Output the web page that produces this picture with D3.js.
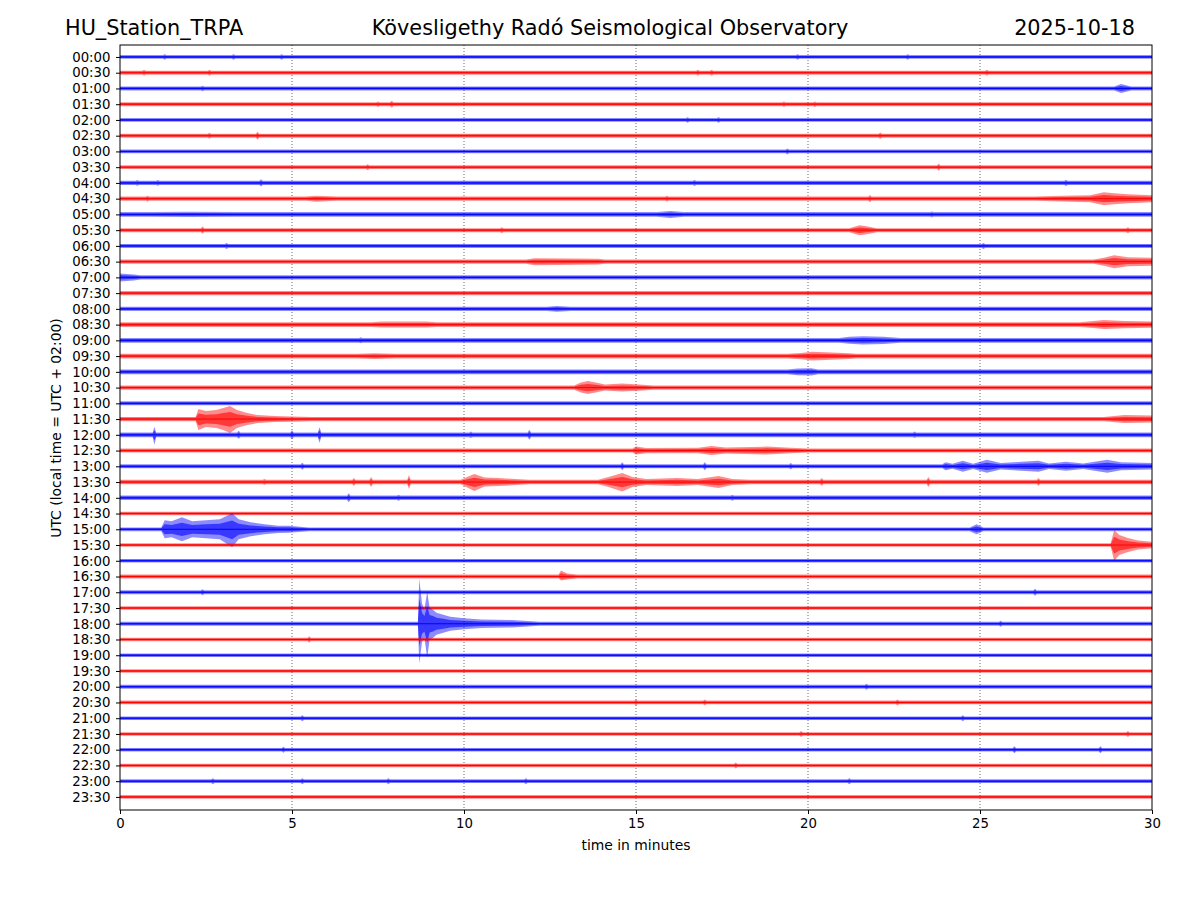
<!DOCTYPE html>
<html>
<head>
<meta charset="utf-8">
<script src="https://cdn.jsdelivr.net/npm/d3@7"></script>
<style>
  html, body { margin: 0; padding: 0; background: #fff; }
  svg { display: block; font-family: "DejaVu Sans", sans-serif; }
</style>
</head>
<body>
<svg id="chart" width="1200" height="900"></svg>
<script>
// ---------------- DATA ----------------
const stationLabel = "HU_Station_TRPA";
const titleLabel = "Kövesligethy Radó Seismological Observatory";
const dateLabel = "2025-10-18";
const yAxisLabel = "UTC (local time = UTC + 02:00)";
const xAxisLabel = "time in minutes";

const rowLabels = ["00:00","00:30","01:00","01:30","02:00","02:30","03:00","03:30",
  "04:00","04:30","05:00","05:30","06:00","06:30","07:00","07:30",
  "08:00","08:30","09:00","09:30","10:00","10:30","11:00","11:30",
  "12:00","12:30","13:00","13:30","14:00","14:30","15:00","15:30",
  "16:00","16:30","17:00","17:30","18:00","18:30","19:00","19:30",
  "20:00","20:30","21:00","21:30","22:00","22:30","23:00","23:30"];

const xTicks = [0, 5, 10, 15, 20, 25, 30];

// background noise half-amplitude per row (trace units)
const baseNoise = [1.9,2.0,2.0,2.0,1.9,2.0,1.9,1.9,
  2.2,2.1,2.3,2.0,2.0,2.1,2.2,2.2,
  2.2,2.4,2.4,2.3,2.4,2.2,2.0,2.2,
  2.4,2.0,2.0,2.2,2.2,1.7,1.9,1.8,
  1.8,1.9,1.9,1.8,1.9,1.8,1.8,1.8,
  1.9,1.9,1.8,1.8,1.8,1.8,1.9,1.9];

// envelope of signal bursts: [row, [[minute, up, down?], ...]]
const bursts = [
  [2,  [[28.9,0],[29.1,4.5],[29.4,0]]],
  [9,  [[5.4,0],[5.7,3],[6.3,0]]],
  [9,  [[26.6,0],[27.4,2.8],[28.2,3.5],[28.6,6.5],[28.9,5.5],[29.3,4.5],[30,3.5]]],
  [10, [[0.9,0],[2,2.6],[3.4,0]]],
  [10, [[15.6,0],[16,3.5],[16.4,0]]],
  [11, [[21.2,0],[21.5,5],[21.7,4],[22.0,0]]],
  [13, [[11.8,0],[12.05,3.5],[13.9,2.8],[14.1,0]]],
  [13, [[28.3,0],[28.6,4],[28.9,6.5],[29.3,4.5],[30,4]]],
  [14, [[0,4],[0.4,3],[0.6,0]]],
  [16, [[12.4,0],[12.7,2.8],[13.1,0]]],
  [17, [[7.3,0],[7.6,3],[8.9,3],[9.2,0]]],
  [17, [[27.9,0],[28.3,3.5],[28.6,4.5],[29.2,3.6],[30,3.2]]],
  [18, [[20.9,0],[21.2,3.5],[21.6,4.2],[22.2,3.6],[22.7,0]]],
  [19, [[6.9,0],[7.4,2.8],[8.0,0]]],
  [19, [[19.4,0],[19.8,3.2],[20.1,4.3],[20.7,3.6],[21.2,2.8],[21.4,0]]],
  [20, [[19.4,0],[19.7,3.4],[20.1,3.6],[20.3,0]]],
  [21, [[13.2,0],[13.4,5],[13.6,6.5],[13.9,4.5],[14.1,3],[14.6,4],[15.2,2.8],[15.5,0]]],
  [23, [[2.2,0],[2.28,10,11],[2.5,8],[2.8,9],[3.0,11],[3.2,13,14],[3.4,9],[3.7,6],[4.0,4],[4.5,3],[5.0,2.6],[5.6,0]]],
  [23, [[28.6,0],[29.2,4],[30,3.5]]],
  [25, [[14.9,0],[15.0,4],[15.3,2.6],[16.8,2.8],[17.2,4.5],[17.6,3],[18.8,4],[19.5,2.8],[20.0,0]]],
  [26, [[23.9,0],[24.0,4],[24.2,2.5],[24.5,5.5],[24.8,2.6],[25.2,6.5],[25.6,3.2],[26.2,4.5],[26.7,5.5],[27.0,2.8],[27.5,4.5],[28.0,2.8],[28.7,6.5],[29.1,4],[30,3.2]]],
  [27, [[9.9,0],[10.3,8,9],[10.6,4.5],[11.0,4],[11.5,3],[11.9,0]]],
  [27, [[13.9,0],[14.2,5],[14.6,9,9.5],[14.9,5],[15.3,3],[16.2,4],[16.8,3],[17.4,6],[17.8,3],[18.3,0]]],
  [30, [[1.2,0],[1.3,9],[1.5,8],[1.8,12,12],[2.1,8],[2.5,9],[2.9,10],[3.26,16,18],[3.45,10],[3.8,7],[4.2,5],[4.6,3.6],[4.9,3.5],[5.5,0]]],
  [30, [[24.7,0],[24.9,5],[25.1,0]]],
  [31, [[28.8,0],[28.9,15,16],[29.05,10],[29.3,7],[29.6,4.5],[30,3.2]]],
  [33, [[12.75,0],[12.82,6,4],[13.0,3],[13.3,0]]],
  [36, [[8.66,0],[8.7,45,40],[8.78,20,18],[8.85,14],[8.93,32,34],[9.0,16],[9.1,14],[9.2,11],[9.4,9],[9.6,7],[10.0,5.5],[10.5,4.2],[11.4,3.8],[12.2,0]]]
];

// isolated short spikes: [row, minute, amplitude]
const spikes = [
  [0,1.3,2.8],[0,3.3,2.8],[0,4.7,2.8],[0,19.7,2.8],[0,22.9,2.8],
  [1,0.7,3],[1,2.6,3],[1,16.8,3],[1,17.2,3],[1,25.2,3],
  [2,2.4,2.8],
  [3,7.5,2.8],[3,7.9,3.5],[3,19.3,2.8],[3,20.2,2.8],
  [4,16.5,2.8],[4,17.4,2.8],
  [5,2.6,3],[5,4.0,4],[5,22.1,3.2],
  [6,19.4,3],
  [7,7.2,3],[7,23.8,3.5],
  [8,0.5,2.8],[8,1.1,2.8],[8,4.1,3.6],[8,16.7,3],[8,27.5,3.2],
  [9,0.8,3],[9,15.9,3],[9,21.8,3.6],
  [10,23.6,3],
  [11,2.4,3.6],[11,11.1,3],[11,29.3,3],
  [12,3.1,3],[12,25.1,3],
  [18,7.0,3],
  [24,1.0,8,10],[24,3.45,4],[24,5.0,4.5],[24,5.8,7.5,8],[24,10.2,3.2],[24,11.9,5],[24,23.1,3.2],
  [26,5.3,3.5],[26,14.6,4],[26,17.0,4],[26,19.5,3.2],
  [27,4.2,3],[27,6.8,4],[27,7.3,5],[27,8.4,7],[27,20.4,4],[27,23.5,5],[27,26.7,4],
  [28,6.65,4.5],[28,8.1,3],[28,17.8,3],
  [34,2.4,3],[34,26.6,3.5],
  [36,25.6,3],
  [37,5.5,3.2],
  [40,21.7,3],
  [41,15.0,3],[41,17.0,3],[41,22.6,3],
  [42,5.3,3],[42,24.5,3],
  [43,19.8,3],[43,29.3,3],
  [44,4.75,3],[44,26.0,3.5],[44,28.5,3.5],
  [45,17.9,3],
  [46,2.7,3],[46,5.3,3],[46,7.8,3],[46,11.8,3],[46,21.2,3]
];

const traceColors = ["#0000ff", "#ff0000"];

// ---------------- LAYOUT ----------------
const svg = d3.select("#chart");
const plot = { left: 120, right: 1152, top: 45, bottom: 810 };

const x = d3.scaleLinear().domain([0, 30]).range([plot.left, plot.right]);
const y = d3.scaleLinear().domain([-0.76, 47.83]).range([plot.top, plot.bottom]);
const rowStep = y(1) - y(0);
const amp = d3.scaleLinear().domain([0, 15.74]).range([0, rowStep]);

// ---------------- BUILD ENVELOPES ----------------
function features(row) {
  const f = [];
  bursts.filter(b => b[0] === row).forEach(b => {
    f.push(b[1].map(p => ({ t: p[0], up: p[1], down: p.length > 2 ? p[2] : p[1] })));
  });
  spikes.filter(s => s[0] === row).forEach(s => {
    const dn = s.length > 3 ? s[3] : s[2];
    f.push([{ t: s[1] - 0.05, up: 0, down: 0 }, { t: s[1], up: s[2], down: dn }, { t: s[1] + 0.05, up: 0, down: 0 }]);
  });
  return f;
}
function evalFeature(pts, t, key) {
  if (t < pts[0].t || t > pts[pts.length - 1].t) return 0;
  for (let i = 0; i < pts.length - 1; i++) {
    const a = pts[i], b = pts[i + 1];
    if (t >= a.t && t <= b.t) {
      if (b.t === a.t) return Math.max(a[key], b[key]);
      const k = (t - a.t) / (b.t - a.t);
      return a[key] + k * (b[key] - a[key]);
    }
  }
  return 0;
}
function envelope(row) {
  const f = features(row);
  const base = baseNoise[row];
  const ts = new Set([0, 30]);
  f.forEach(pts => pts.forEach(p => { if (p.t >= 0 && p.t <= 30) ts.add(p.t); }));
  const arr = Array.from(ts).sort((a, b) => a - b);
  return arr.map(t => {
    let up = base, down = base;
    f.forEach(pts => {
      up = Math.max(up, evalFeature(pts, t, "up"));
      down = Math.max(down, evalFeature(pts, t, "down"));
    });
    return { t, up, down };
  });
}

// ---------------- GRID ----------------
const gridG = svg.append("g");
gridG.selectAll("line").data(xTicks.filter(d => d > 0 && d < 30)).join("line")
  .attr("x1", d => x(d)).attr("x2", d => x(d))
  .attr("y1", plot.top).attr("y2", plot.bottom)
  .attr("stroke", "#444").attr("stroke-width", 0.8)
  .attr("stroke-dasharray", "1,2");

// ---------------- TRACES ----------------
const traceG = svg.append("g");
rowLabels.forEach((lab, row) => {
  const yc = y(row);
  const env = envelope(row);
  const col = traceColors[row % 2];
  const areaAt = f => d3.area()
    .x(d => x(d.t))
    .y0(d => yc + amp(d.down) * f)
    .y1(d => yc - amp(d.up) * f);
  traceG.append("path").datum(env)
    .attr("d", areaAt(1))
    .attr("fill", col)
    .attr("fill-opacity", 0.45);
  traceG.append("path").datum(env)
    .attr("d", areaAt(0.55))
    .attr("fill", col)
    .attr("fill-opacity", 0.6);
  traceG.append("path").datum([{ t: 0 }, { t: 30 }])
    .attr("d", d3.line().x(d => x(d.t)).y(() => yc))
    .attr("stroke", col).attr("stroke-width", 1).attr("fill", "none");
});

// ---------------- AXES ----------------
const yAxis = d3.axisLeft(y)
  .tickValues(d3.range(rowLabels.length))
  .tickFormat(i => rowLabels[i])
  .tickSize(4).tickPadding(5.5);
const yG = svg.append("g").attr("transform", `translate(${plot.left},0)`).call(yAxis);

const xAxis = d3.axisBottom(x).tickValues(xTicks).tickFormat(d3.format("d"))
  .tickSize(4).tickPadding(5);
const xG = svg.append("g").attr("transform", `translate(0,${plot.bottom})`).call(xAxis);

[yG, xG].forEach(g => {
  g.select(".domain").remove();
  g.selectAll(".tick line").attr("stroke", "#000").attr("stroke-width", 1);
  g.selectAll(".tick text").attr("fill", "#000")
    .style("font-family", "DejaVu Sans").style("font-size", "13.3px");
});

// frame
svg.append("rect")
  .attr("x", plot.left).attr("y", plot.top)
  .attr("width", plot.right - plot.left).attr("height", plot.bottom - plot.top)
  .attr("fill", "none").attr("stroke", "#000").attr("stroke-width", 1);

// ---------------- LABELS ----------------
svg.append("text").attr("x", 636).attr("y", 850)
  .attr("text-anchor", "middle").style("font-size", "13.9px").text(xAxisLabel);
svg.append("text")
  .attr("transform", "translate(61,428) rotate(-90)")
  .attr("text-anchor", "middle").style("font-size", "13.9px").text(yAxisLabel);

svg.append("text").attr("x", 65).attr("y", 35)
  .attr("text-anchor", "start").style("font-size", "20.8px").text(stationLabel);
svg.append("text").attr("x", 610).attr("y", 35)
  .attr("text-anchor", "middle").style("font-size", "20.8px").text(titleLabel);
svg.append("text").attr("x", 1135).attr("y", 35)
  .attr("text-anchor", "end").style("font-size", "20.8px").text(dateLabel);
</script>
</body>
</html>
